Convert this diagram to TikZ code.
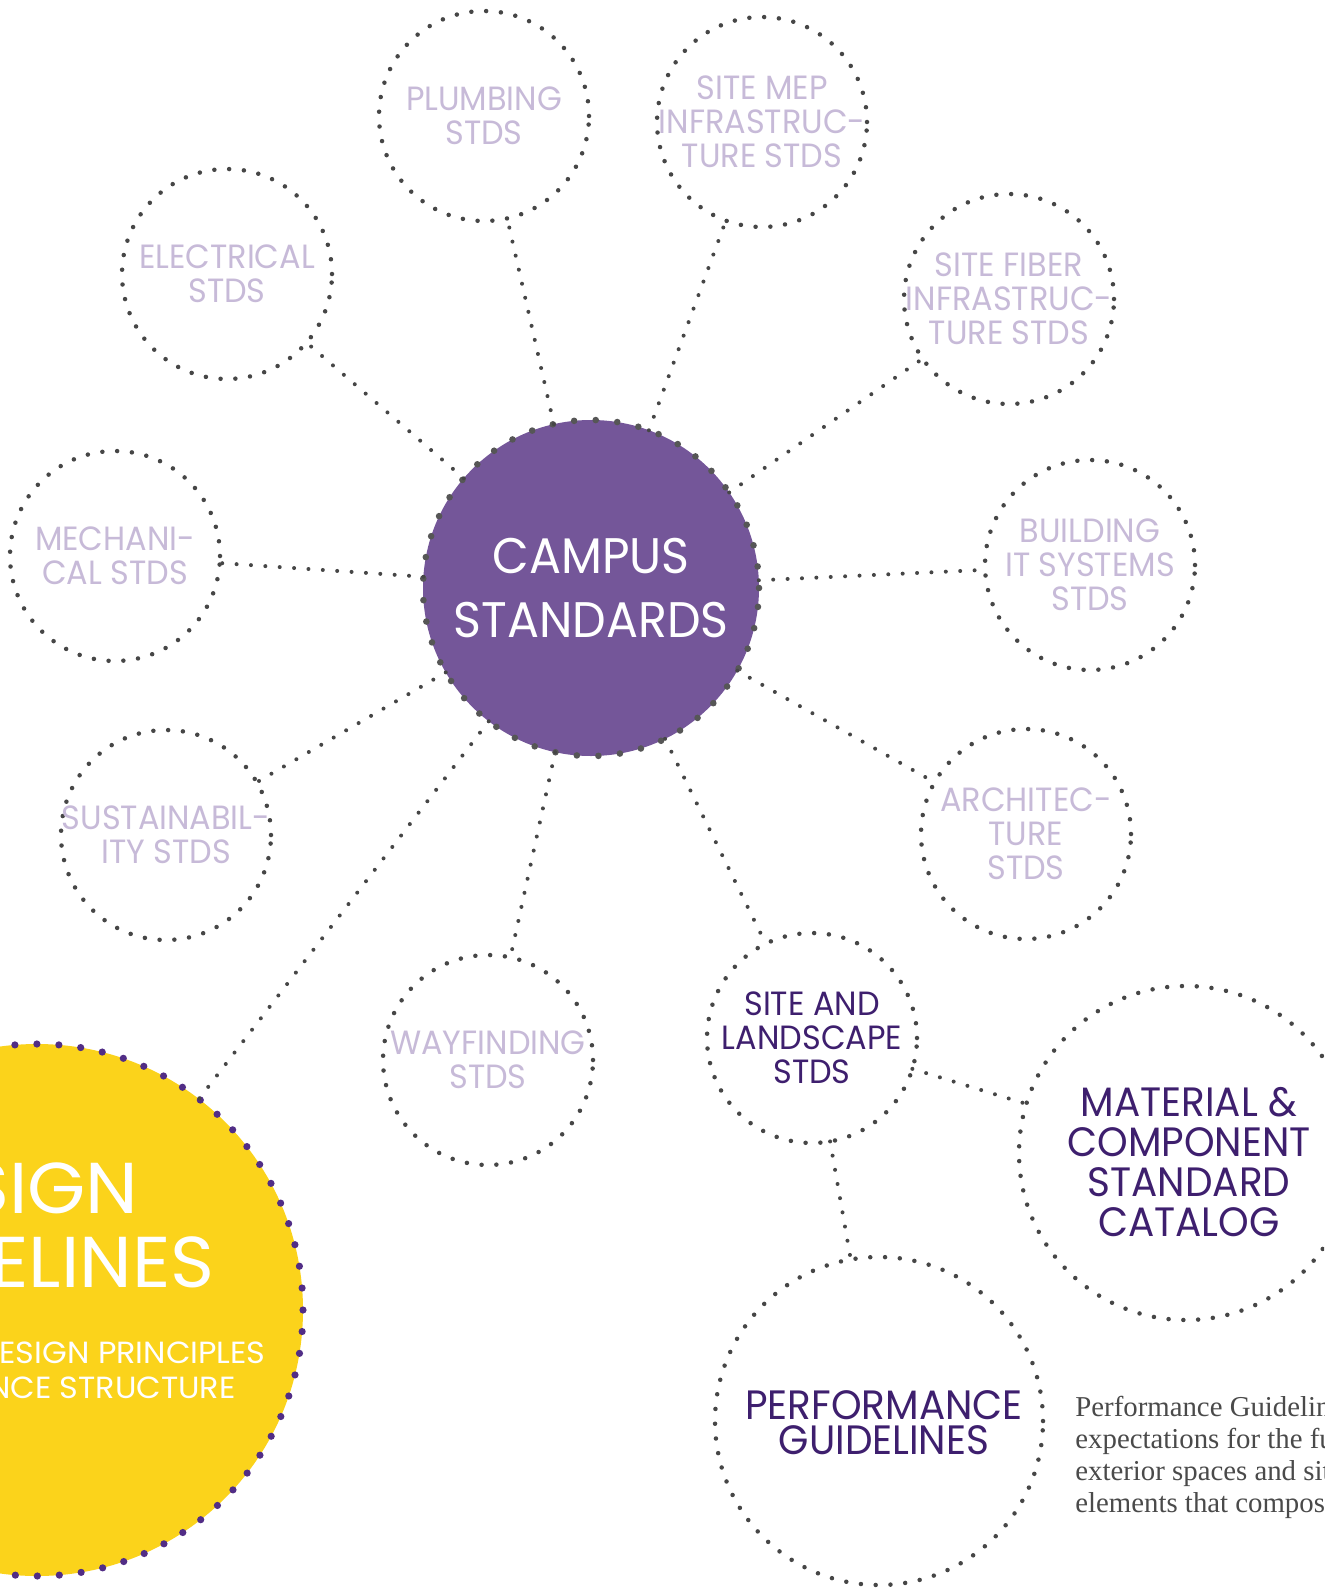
\documentclass[tikz,border=0pt]{standalone}
\usepackage{fontspec}
\setmainfont{Liberation Serif}
\newfontfamily\geo[FakeStretch=0.95]{Poppins}
\newfontfamily\geow[FakeStretch=1.04]{Poppins}
\definecolor{dotgray}{HTML}{464646}
\definecolor{centraldot}{HTML}{565656}
\definecolor{campus}{HTML}{745699}
\definecolor{sun}{HTML}{FBD31B}
\definecolor{grape}{HTML}{512D86}
\definecolor{deep}{HTML}{3E1F6E}
\definecolor{lilac}{HTML}{C7BAD8}
\definecolor{bodygray}{HTML}{4A4A4A}
\begin{document}
\begin{tikzpicture}[x=0.5pt,y=-0.5pt,
  dotring/.style={circle, draw=dotgray, line width=2.25pt, dash pattern=on 0pt off 7.4pt,
    line cap=round, inner xsep=-20pt, inner ysep=-4pt, outer sep=0pt, minimum size=105pt, align=center,
    text=lilac, font=\geo\fontsize{16.8}{17}\selectfont},
  bigring/.style={dotring, minimum size=166pt, text=deep, font=\geo\fontsize{20.5}{20}\selectfont},
  link/.style={draw=dotgray, line width=2pt, dash pattern=on 0pt off 7.2pt, line cap=round},
  whitetext/.style={text=white, inner sep=0pt, anchor=east},
]
\clip (0,0) rectangle (1324,1595);
\fill[white] (0,0) rectangle (1324,1595);

% central
\node[circle, fill=campus, draw=centraldot, line width=3.3pt, dash pattern=on 0pt off 10.8pt,
  line cap=round, inner sep=0pt, outer sep=0pt, minimum size=168pt, text=white, align=center,
  font=\geo\fontsize{25}{32}\selectfont] (C) at (591,588) {CAMPUS\\STANDARDS};

% satellites
\node[dotring] (plumb) at (484,116) {PLUMBING\\STDS};
\node[dotring] (mep) at (762,122) {SITE MEP\\INFRASTRUC-\\TURE STDS};
\node[dotring] (elec) at (227,274) {ELECTRICAL\\STDS};
\node[dotring] (fiber) at (1009,299) {SITE FIBER\\INFRASTRUC-\\TURE STDS};
\node[dotring] (mech) at (115,556) {MECHANI-\\CAL STDS};
\node[dotring] (bldg) at (1090,565) {BUILDING\\IT SYSTEMS\\STDS};
\node[dotring] (sust) at (166,835) {SUSTAINABIL-\\ITY STDS};
\node[dotring] (arch) at (1026,834) {ARCHITEC-\\TURE\\STDS};
\node[dotring] (way) at (488,1060) {WAYFINDING\\STDS};
\node[dotring, text=deep] (land) at (812,1038) {SITE AND\\LANDSCAPE\\STDS};

\node[bigring, minimum size=167pt] (mat) at (1186,1153) {};
\node[text=deep, align=center, font=\geo\fontsize{20.5}{20}\selectfont] (matlabel) at (1189,1162)
  {MATERIAL \&\\COMPONENT\\STANDARD\\CATALOG};
\node[bigring, minimum size=164pt] (perf) at (879,1421) {};
\node[text=deep, align=center, font=\geo\fontsize{20.5}{17.5}\selectfont] (perflabel) at (884,1423)
  {PERFORMANCE\\GUIDELINES};

% yellow
\node[circle, fill=sun, draw=grape, line width=3.6pt, dash pattern=on 0pt off 11pt,
  line cap=round, inner sep=0pt, outer sep=0pt, minimum size=266pt] (Y) at (37,1310) {};
\node[whitetext, font=\geow\fontsize{36}{36}\selectfont] (y1) at (139,1188) {DESIGN};
\node[whitetext, font=\geow\fontsize{36}{36}\selectfont] (y2) at (215,1262) {GUIDELINES};
\node[whitetext, font=\geow\fontsize{15.3}{15.3}\selectfont] (y3) at (266,1353) {DESIGN PRINCIPLES};
\node[whitetext, font=\geow\fontsize{15.3}{15.3}\selectfont] (y4) at (236,1388) {GOVERNANCE STRUCTURE};

% body text
\node[anchor=north west, align=left, inner sep=0pt, text=bodygray,
  font=\fontsize{14.4}{15.9}\selectfont] (body) at (1075,1396)
  {Performance Guidelines\\expectations for the full\\exterior spaces and site\\elements that compose};

% connectors
\foreach \n in {plumb,mep,elec,fiber,mech,bldg,sust,arch,way,land,Y}
  \draw[link] (C) -- (\n);
\draw[link] (land) -- (mat);
\draw[link] (land) -- (perf);
\end{tikzpicture}
\end{document}
